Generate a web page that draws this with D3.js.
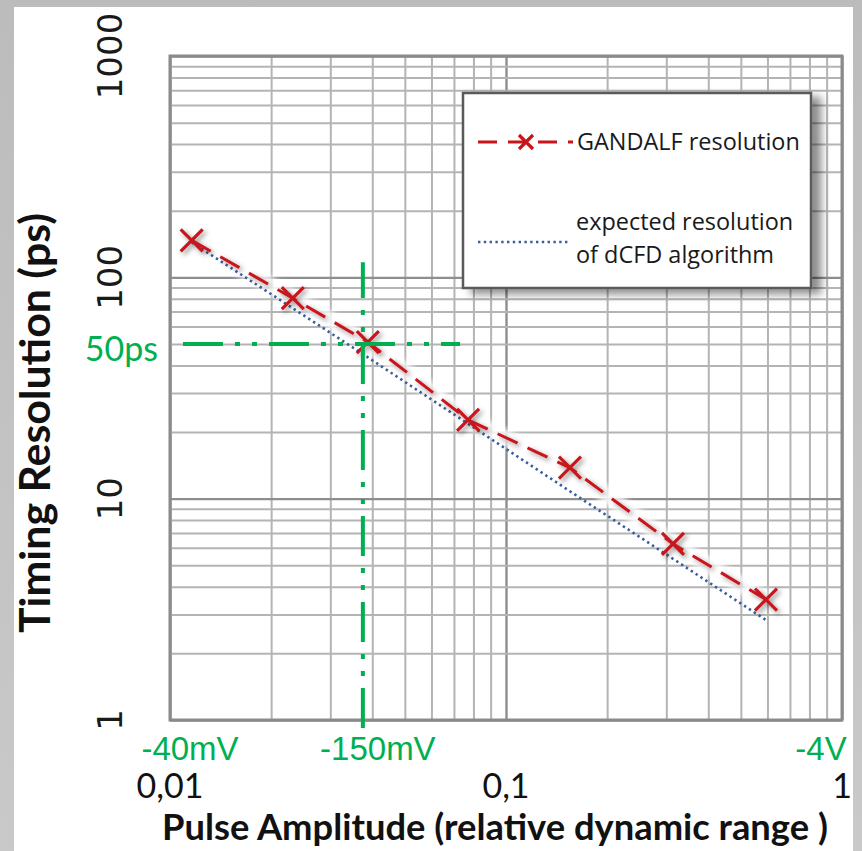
<!DOCTYPE html>
<html>
<head>
<meta charset="utf-8">
<script src="https://cdn.jsdelivr.net/npm/d3@7"></script>
<style>
  html, body { margin: 0; padding: 0; background: #bfbfbf; }
  svg { display: block; }
</style>
</head>
<body>
<svg id="chart" width="862" height="851"></svg>
<script>
// Pulse amplitude (fraction of dynamic range) for each measurement
const amplitude = [0.0116, 0.0232, 0.0388, 0.0771, 0.155, 0.314, 0.594];
// Measured GANDALF timing resolution (ps)
const gandalfRes = [147, 80.5, 51, 22.7, 13.8, 6.25, 3.5];
// Expected resolution of the dCFD algorithm (ps)
const expectedAmp = [0.0116, 0.0232, 0.0388, 0.0771, 0.155, 0.314, 0.596];
const expectedRes = [144, 72.5, 43.5, 21.8, 10.8, 5.35, 2.82];

// Axis ticks
const xTickValues = [0.01, 0.1, 1];
const xTickLabels = ["0,01", "0,1", "1"];
const yTickValues = [1, 10, 100, 1000];
const yTickLabels = ["1", "10", "100", "1000"];

// Voltage equivalents shown above the amplitude axis
const voltValues = [0.01, 0.0375, 1];
const voltLabels = ["-40mV", "-150mV", "-4V"];

// 50 ps reference guides
const guideLevel = 50;
const guideLabel = "50ps";
const guideAmplitude = 0.0375;
const guideHorizX = [0.01093, 0.073];
const guideVertY = [0.92, 117];

const legendLabels = ["GANDALF resolution", "expected resolution", "of dCFD algorithm"];

const RED = "#c8141b", BLUE = "#3a5d9c", GREEN = "#00b050";

const svg = d3.select("#chart");
const W = 862, H = 851;
const plot = { left: 170, top: 56, right: 842, bottom: 720 };

const x = d3.scaleLog().domain([0.01, 1]).range([plot.left, plot.right]);
const y = d3.scaleLog().domain([1, 1000]).range([plot.bottom, plot.top]);

const defs = svg.append("defs");
const bgGrad = defs.append("linearGradient").attr("id", "bgGrad")
  .attr("x1", 0).attr("y1", 0).attr("x2", 0).attr("y2", 1);
bgGrad.append("stop").attr("offset", 0).attr("stop-color", "#bcbcbc");
bgGrad.append("stop").attr("offset", 1).attr("stop-color", "#c9c9c9");

const shadow = defs.append("filter").attr("id", "lineShadow")
  .attr("x", "-20%").attr("y", "-20%").attr("width", "140%").attr("height", "140%");
shadow.append("feDropShadow").attr("dx", 2.5).attr("dy", 2.5)
  .attr("stdDeviation", 2.5).attr("flood-color", "#000").attr("flood-opacity", 0.45);

const halo = defs.append("filter").attr("id", "halo")
  .attr("x", "-20%").attr("y", "-20%").attr("width", "140%").attr("height", "140%");
halo.append("feGaussianBlur").attr("stdDeviation", 2.5);

const boxShadow = defs.append("filter").attr("id", "boxShadow")
  .attr("x", "-10%").attr("y", "-10%").attr("width", "125%").attr("height", "125%");
boxShadow.append("feDropShadow").attr("dx", 9).attr("dy", 5)
  .attr("stdDeviation", 4).attr("flood-color", "#000").attr("flood-opacity", 0.45);

// page background
svg.append("rect").attr("width", W).attr("height", H).attr("fill", "url(#bgGrad)");
svg.append("rect").attr("x", 14).attr("y", 7).attr("width", 839).attr("height", H - 7).attr("fill", "#fff");

// log grid: every 1..9 step inside each decade
const xGridVals = [];
[0.01, 0.1].forEach(d => { for (let k = 1; k <= 9; k++) xGridVals.push(+(d * k).toPrecision(3)); });
xGridVals.push(1);
const yGridVals = [];
[1, 10, 100].forEach(d => { for (let k = 1; k <= 9; k++) yGridVals.push(d * k); });
yGridVals.push(1000);
const isDecade = v => Math.abs(Math.log10(v) - Math.round(Math.log10(v))) < 1e-6;

const plotH = plot.bottom - plot.top, plotW = plot.right - plot.left;

const gx = svg.append("g").attr("transform", `translate(0,${plot.bottom})`)
  .call(d3.axisBottom(x).tickValues(xGridVals).tickSize(-plotH).tickFormat(""));
gx.select(".domain").remove();
gx.selectAll(".tick line")
  .attr("stroke", d => isDecade(d) ? "#8e8e8e" : "#b4b4b4")
  .attr("stroke-width", d => isDecade(d) ? 2.4 : 2);

const gy = svg.append("g").attr("transform", `translate(${plot.left},0)`)
  .call(d3.axisLeft(y).tickValues(yGridVals).tickSize(-plotW).tickFormat(""));
gy.select(".domain").remove();
gy.selectAll(".tick line")
  .attr("stroke", d => isDecade(d) ? "#8e8e8e" : "#b4b4b4")
  .attr("stroke-width", d => isDecade(d) ? 2.4 : 2);

// plot frame
svg.append("rect")
  .attr("x", plot.left).attr("y", plot.top).attr("width", plotW).attr("height", plotH)
  .attr("fill", "none").attr("stroke", "#8a8a8a").attr("stroke-width", 3);

// series
const gPts = amplitude.map((a, i) => [a, gandalfRes[i]]);
const ePts = expectedAmp.map((a, i) => [a, expectedRes[i]]);
const line = d3.line().x(d => x(d[0])).y(d => y(d[1]));

// soft white halo around the curves
svg.append("path").datum(gPts).attr("d", line)
  .attr("fill", "none").attr("stroke", "#fff").attr("stroke-width", 16)
  .attr("stroke-opacity", 0.85).attr("filter", "url(#halo)");

svg.append("path").datum(ePts).attr("d", line)
  .attr("fill", "none").attr("stroke", BLUE).attr("stroke-width", 2.6)
  .attr("stroke-dasharray", "2.4,3.4");

const redG = svg.append("g").attr("filter", "url(#lineShadow)");
redG.append("path").datum(gPts).attr("d", line)
  .attr("fill", "none").attr("stroke", RED).attr("stroke-width", 3)
  .attr("stroke-dasharray", "22,11");

const cross = (g, cx, cy, r, w) => {
  g.append("path")
    .attr("d", `M${cx - r},${cy - r}L${cx + r},${cy + r}M${cx - r},${cy + r}L${cx + r},${cy - r}`)
    .attr("stroke", RED).attr("stroke-width", w).attr("fill", "none");
};
gPts.forEach(d => cross(redG, x(d[0]), y(d[1]), 11, 3.2));

// 50 ps guide lines
const guideDash = "40,12,5,12,5,12";
svg.append("line")
  .attr("x1", x(guideHorizX[0])).attr("x2", x(guideHorizX[1]))
  .attr("y1", y(guideLevel)).attr("y2", y(guideLevel))
  .attr("stroke", GREEN).attr("stroke-width", 4).attr("stroke-dasharray", guideDash);
svg.append("line")
  .attr("x1", x(guideAmplitude)).attr("x2", x(guideAmplitude))
  .attr("y1", y(guideVertY[0])).attr("y2", y(guideVertY[1]))
  .attr("stroke", GREEN).attr("stroke-width", 4).attr("stroke-dasharray", guideDash);

svg.append("text").text(guideLabel)
  .attr("x", 158).attr("y", y(guideLevel) + 17)
  .attr("text-anchor", "end").attr("fill", GREEN)
  .attr("font-family", "Lato, 'Open Sans', sans-serif").attr("font-size", 34);

// y tick labels (rotated)
yTickValues.forEach((v, i) => {
  svg.append("text").text(yTickLabels[i])
    .attr("transform", `translate(122,${y(v)}) rotate(-90)`)
    .attr("text-anchor", "middle").attr("fill", "#1a1a1a")
    .attr("font-family", "'DejaVu Sans', sans-serif").attr("font-size", 34);
});

// x tick labels
xTickValues.forEach((v, i) => {
  svg.append("text").text(xTickLabels[i])
    .attr("x", x(v)).attr("y", 798)
    .attr("text-anchor", "middle").attr("fill", "#111")
    .attr("font-family", "Lato, 'Open Sans', sans-serif").attr("font-size", 34);
});

// voltage labels
const voltOffset = [20, 15, -21];
voltValues.forEach((v, i) => {
  svg.append("text").text(voltLabels[i])
    .attr("x", x(v) + voltOffset[i]).attr("y", 760)
    .attr("text-anchor", "middle").attr("fill", GREEN)
    .attr("font-family", "'Liberation Sans', Arial, sans-serif").attr("font-size", 33);
});

// fit a text element's font size to a target length
const fitText = (sel, target) => {
  const fs = +sel.attr("font-size");
  const len = sel.node().getComputedTextLength();
  sel.attr("font-size", fs * target / len);
};

// axis titles
const xTitle = svg.append("text").text("Pulse Amplitude (relative dynamic range )")
  .attr("x", 162).attr("y", 840).attr("fill", "#111")
  .attr("font-family", "Lato, 'Open Sans', sans-serif").attr("font-weight", "bold").attr("font-size", 32);
fitText(xTitle, 666);

const yTitle = svg.append("text").text("Timing Resolution (ps)")
  .attr("transform", `translate(50,423) rotate(-90)`)
  .attr("text-anchor", "middle").attr("fill", "#111")
  .attr("font-family", "Lato, 'Open Sans', sans-serif").attr("font-weight", "bold").attr("font-size", 34);
fitText(yTitle, 420);

// legend
const lg = svg.append("g");
lg.append("rect").attr("x", 463).attr("y", 93).attr("width", 348).attr("height", 195)
  .attr("fill", "#fff").attr("stroke", "#5a5a5a").attr("stroke-width", 2.5)
  .attr("filter", "url(#boxShadow)");

const lx0 = 478, lx1 = 573, ly1 = 142, ly2 = 242;
lg.append("line").attr("x1", lx0).attr("x2", lx1).attr("y1", ly1).attr("y2", ly1)
  .attr("stroke", RED).attr("stroke-width", 3).attr("stroke-dasharray", "19,11");
cross(lg, 526, ly1, 7, 3.2);
lg.append("line").attr("x1", lx0).attr("x2", 570).attr("y1", ly2).attr("y2", ly2)
  .attr("stroke", BLUE).attr("stroke-width", 2.4).attr("stroke-dasharray", "2.4,3.4");

const lt = lg.append("text").text(legendLabels[0])
  .attr("x", 577).attr("y", 150).attr("fill", "#1a1a1a")
  .attr("font-family", "'Open Sans', sans-serif").attr("font-size", 22);
fitText(lt, 223);
const lfs = lt.attr("font-size");
lg.append("text").text(legendLabels[1]).attr("x", 576).attr("y", 230)
  .attr("fill", "#1a1a1a").attr("font-family", "'Open Sans', sans-serif").attr("font-size", lfs);
lg.append("text").text(legendLabels[2]).attr("x", 576).attr("y", 263)
  .attr("fill", "#1a1a1a").attr("font-family", "'Open Sans', sans-serif").attr("font-size", lfs);
</script>
</body>
</html>
